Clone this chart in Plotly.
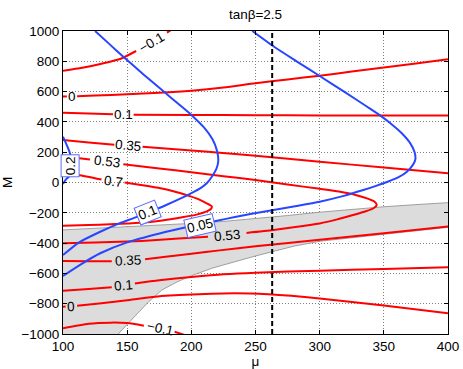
import plotly.graph_objects as go

# axis ranges and the dashed mu value
x_range = [100, 400]
y_range = [-1000, 1000]
mu_line = 263

# red contour lines (mu, M); None = gap left for the inline label
red_m01_top = [(100, 737), (115, 757), (130, 784), (145, 817), (157, 868), None,
               (181, 990), (184, 1005)]
red_0_top = [(100, 568), (103, 568), None, (111, 570), (125, 574), (150, 582), (175, 592),
             (200, 606), (225, 627), (250, 655), (275, 680), (300, 705), (325, 732),
             (350, 759), (375, 786), (400, 813)]
red_01_top = [(100, 461), (120, 456), (139, 451), None, (155, 447), (200, 446), (250, 444),
              (300, 443), (350, 443), (400, 443)]
red_035_top = [(100, 280), (120, 264), (140, 249), None, (162, 236), (200, 212), (222, 197),
               (250, 176), (300, 137), (350, 99), (400, 61)]
red_053 = [(100, 172), (111, 162), (121, 152), None, (147, 120), (175, 93), (200, 68),
           (225, 42), (250, 16), (275, -13), (300, -42), (315, -60), (328, -82), (338, -108),
           (343, -128), (344.5, -148), (342, -170), (336, -190), (326, -215), (313, -245),
           (300, -270), (287, -287), (264, -314), (243, -333), None, (213, -358),
           (190, -370), (173, -380), (150, -390), (125, -396), (100, -401)]
red_07 = [(100, 66), (112, 50), (130, 20), None, (148, 0), (162, -18), (176, -38),
          (186, -58), (196, -83), (205, -108), (212, -137), (215.9, -158), (215.5, -172),
          (212, -190), (204, -212), (194, -228), (176, -252), (160, -266), (137, -276),
          (120, -281), (100, -285)]
red_035_low = [(100, -518), (120, -519), (138, -519), None, (164, -507), (180, -490),
               (200, -470), (222, -448), (250, -421), (300, -378), (350, -335), (400, -290)]
red_01_low = [(100, -714), (120, -703), (138, -692), None, (156, -666), (175, -645),
              (200, -624), (225, -606), (250, -595), (300, -582), (350, -571), (400, -560)]
red_0_low = [(100, -820), (102, -819), None, (111, -813), (130, -797), (150, -777),
             (172, -754), (200, -740), (234, -731), (260, -738), (300, -765), (350, -812),
             (400, -863)]
red_m01_low = [(100, -962), (120, -932), (137, -925), (150, -928), (163, -945), None,
               (187, -985), (194, -1005)]

# blue contour lines
blue_02 = [(100, 302), (102, 265), (104, 226), (105.5, 190), (106, 110), (104.5, 38),
           (103, 27), (101, 5), (100, -10)]
blue_01 = [(125, 1000), (136, 915), (147, 830), (162.5, 715), (178.5, 600), (190.5, 515),
           (200, 446), (210, 362), (216.5, 285), (220, 210), (221, 140), (219.5, 90),
           (216.5, 45), (212, -5), (207.5, -35), (200.5, -68), (190.5, -110), (180, -150),
           (167, -195), (155, -235), (144, -270), (129, -325), (112, -398), (100, -479)]
blue_005 = [(247.5, 1000), (264.5, 896), (282, 800), (300, 703), (319, 600), (337, 500),
            (346.5, 446), (356, 385), (364, 325), (370.5, 260), (374, 200), (374.5, 150),
            (372.5, 115), (368, 71), (361.5, 35), (353, 5), (344, -22), (334, -50),
            (318, -90), (300, -127), (282, -155), (264, -181), (246, -208), (234, -228),
            (220, -252), (207, -275), (195, -297), (176, -335), (150, -395), (129, -467),
            (113, -545), (100, -617)]

# shaded band: upper and lower edges
gray_top = [(100, -313), (125, -303), (150, -292), (175, -280), (200, -270), (225, -257),
            (250, -240), (275, -218), (300, -196), (325, -177), (350, -160), (375, -146),
            (400, -133)]
gray_bottom = [(400, -296), (350, -340), (300, -388), (280, -420), (264, -452),
               (250, -485), (234, -523), (216, -566), (198, -622), (188, -660),
               (177, -710), (167, -785), (158, -865), (150, -936), (143, -1000)]

# contour labels
red_label_text = ["−0.1", "0", "0.1", "0.35", "0.53", "0.7", "0.53", "0.35", "0.1", "0", "−0.1"]
red_label_x = [169, 107, 147, 151, 134, 139.5, 228, 151, 147, 106, 176]
red_label_y = [927, 567, 448, 243, 137, 8, -347, -516, -679, -818, -964]
red_label_angle = [-31, 0, 0, 5, 7, 7, -5, -3, -5, -2, 12]

blue_label_text = ["0.2", "0.1", "0.05"]
blue_label_x = [105.8, 166, 207]
blue_label_y = [110, -195, -285]
blue_label_angle = [-90, -22, -13]

FONT = "Liberation Sans, Arial, sans-serif"
RED = "#ff0000"
BLUE = "#2846ff"


def xy(points):
    xs = [p[0] if p else None for p in points]
    ys = [p[1] if p else None for p in points]
    return xs, ys


fig = go.Figure()

# gray band
band = gray_top + gray_bottom + [(x_range[0], y_range[0])]
bx, by = xy(band)
fig.add_trace(go.Scatter(x=bx, y=by, fill="toself", fillcolor="#dcdcdc",
                         line=dict(width=0), mode="lines", hoverinfo="skip"))
for edge in [gray_top, gray_bottom]:
    ex, ey = xy(edge)
    fig.add_trace(go.Scatter(x=ex, y=ey, mode="lines",
                             line=dict(color="#8c8c8c", width=0.8)))

for c in [red_m01_top, red_0_top, red_01_top, red_035_top, red_053, red_07,
          red_035_low, red_01_low, red_0_low, red_m01_low]:
    cx, cy = xy(c)
    fig.add_trace(go.Scatter(x=cx, y=cy, mode="lines", connectgaps=False,
                             line=dict(color=RED, width=2, shape="spline", smoothing=0.6)))

for c in [blue_02, blue_01, blue_005]:
    cx, cy = xy(c)
    fig.add_trace(go.Scatter(x=cx, y=cy, mode="lines",
                             line=dict(color=BLUE, width=2, shape="spline", smoothing=0.6)))

fig.add_trace(go.Scatter(x=[mu_line, mu_line], y=y_range, mode="lines",
                         line=dict(color="black", width=2, dash="5px,3px")))

for t, x, y, a in zip(red_label_text, red_label_x, red_label_y, red_label_angle):
    fig.add_annotation(x=x, y=y, text=t, textangle=a, showarrow=False,
                       font=dict(family=FONT, size=13.5, color="black"))

for t, x, y, a in zip(blue_label_text, blue_label_x, blue_label_y, blue_label_angle):
    fig.add_annotation(x=x, y=y, text=t, textangle=a, showarrow=False,
                       font=dict(family=FONT, size=13.5, color="black"),
                       bgcolor="white", bordercolor="#5a6cff", borderwidth=1, borderpad=1)

axis_style = dict(showline=True, linecolor="black", linewidth=1, mirror="ticks",
                  ticks="inside", ticklen=4, tickcolor="black", zeroline=False,
                  showgrid=True, gridcolor="#808080", griddash="1px,2px", gridwidth=1,
                  automargin=False,
                  tickfont=dict(family=FONT, size=13.5, color="black"))

fig.update_xaxes(range=x_range, dtick=50, title=dict(text="μ",
                 font=dict(family=FONT, size=13.5, color="black")), **axis_style)
fig.update_yaxes(range=y_range, dtick=200, title=dict(text="M",
                 font=dict(family=FONT, size=13.5, color="black")), **axis_style)

fig.update_layout(width=463, height=369, showlegend=False,
                  margin=dict(l=63, r=15, t=31, b=35),
                  plot_bgcolor="white", paper_bgcolor="white",
                  title=dict(text="tanβ=2.5", x=0.5, xref="paper", y=0.96, yanchor="middle",
                             font=dict(family=FONT, size=13.5, color="black")))

# the page's default 8px body margin would shift the figure
fig.write_html("out.html", config={"displayModeBar": False},
               post_script="document.body.style.margin = '0';")
